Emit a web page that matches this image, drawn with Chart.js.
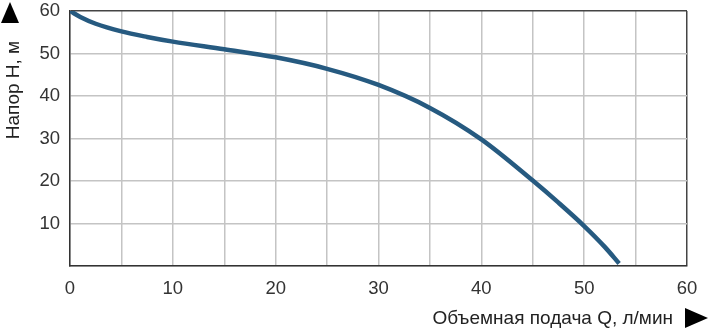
<!DOCTYPE html>
<html>
<head>
<meta charset="utf-8">
<script src="https://cdn.jsdelivr.net/npm/chart.js@4/dist/chart.umd.min.js"></script>
<style>
html,body{margin:0;padding:0;background:#fff;}
#wrap{position:relative;width:710px;height:329px;}
</style>
</head>
<body>
<div id="wrap"><canvas id="c" width="710" height="329"></canvas></div>
<script>
// Flow rate Q, l/min
const flowQ = [0, 1, 2.5, 5, 7.5, 10, 15, 20, 25, 30, 35, 40, 45, 47.5, 50, 52, 53.4];
// Head H, m
const headH = [60, 58.6, 57.0, 55.2, 53.9, 52.8, 51.0, 49.1, 46.4, 42.6, 37.2, 29.8, 20.1, 14.9, 9.4, 4.5, 0.6];
const xTicks = [0, 10, 20, 30, 40, 50, 60];
const yTicks = [10, 20, 30, 40, 50, 60];
const xTitle = 'Объемная подача Q, л/мин';
const yTitle = 'Напор H, м';

const FONT = '"Liberation Sans", Arial, sans-serif';
const points = flowQ.map((q, i) => ({x: q, y: headH[i]}));

const decor = {
  id: 'decor',
  afterDraw(chart) {
    const ctx = chart.ctx;
    ctx.save();
    ctx.fillStyle = '#000';
    // y arrow
    ctx.beginPath();
    ctx.moveTo(1, 23); ctx.lineTo(19, 23); ctx.lineTo(10, 2); ctx.closePath(); ctx.fill();
    // x arrow
    ctx.beginPath();
    ctx.moveTo(685, 308); ctx.lineTo(685, 328); ctx.lineTo(708, 318); ctx.closePath(); ctx.fill();
    ctx.fillStyle = '#222';
    ctx.font = '19px ' + FONT;
    ctx.textAlign = 'right';
    ctx.textBaseline = 'middle';
    ctx.fillText(xTitle, 673, 319);
    ctx.translate(14, 90);
    ctx.rotate(-Math.PI / 2);
    ctx.textAlign = 'center';
    ctx.fillText(yTitle, 0, 0);
    ctx.restore();
  }
};

new Chart(document.getElementById('c'), {
  type: 'line',
  data: {
    datasets: [{
      data: points,
      borderColor: '#265a80',
      borderWidth: 4.5,
      pointRadius: 0,
      cubicInterpolationMode: 'monotone',
      fill: false
    }]
  },
  options: {
    responsive: false,
    animation: false,
    events: [],
    layout: {padding: {top: 11, right: 23, left: 0, bottom: 0}},
    plugins: {legend: {display: false}, tooltip: {enabled: false}},
    scales: {
      x: {
        type: 'linear', min: 0, max: 60,
        afterFit(s) { s.height = 63; s.paddingLeft = 0; s.paddingRight = 0; },
        afterBuildTicks(s) { s.ticks = [0,5,10,15,20,25,30,35,40,45,50,55,60].map(v => ({value: v})); },
        ticks: {
          color: '#333', font: {size: 18.5, family: FONT}, padding: 12, maxRotation: 0,
          autoSkip: false,
          callback: v => xTicks.includes(v) ? String(v) : ''
        },
        grid: {
          color: c => c.tick && c.tick.value === 60 ? '#444' : '#c4c4c4',
          lineWidth: 1.5, drawTicks: false
        },
        border: {color: '#333', width: 1.5}
      },
      y: {
        type: 'linear', min: 0, max: 60,
        afterFit(s) { s.width = 70; s.paddingTop = 0; s.paddingBottom = 0; },
        afterBuildTicks(s) { s.ticks = [0,10,20,30,40,50,60].map(v => ({value: v})); },
        ticks: {
          color: '#333', font: {size: 18.5, family: FONT}, padding: 10,
          callback: v => yTicks.includes(v) ? String(v) : ''
        },
        grid: {
          color: c => c.tick && c.tick.value === 60 ? '#444' : '#c4c4c4',
          lineWidth: 1.5, drawTicks: false
        },
        border: {color: '#333', width: 1.5}
      }
    }
  },
  plugins: [decor]
});
</script>
</body>
</html>
